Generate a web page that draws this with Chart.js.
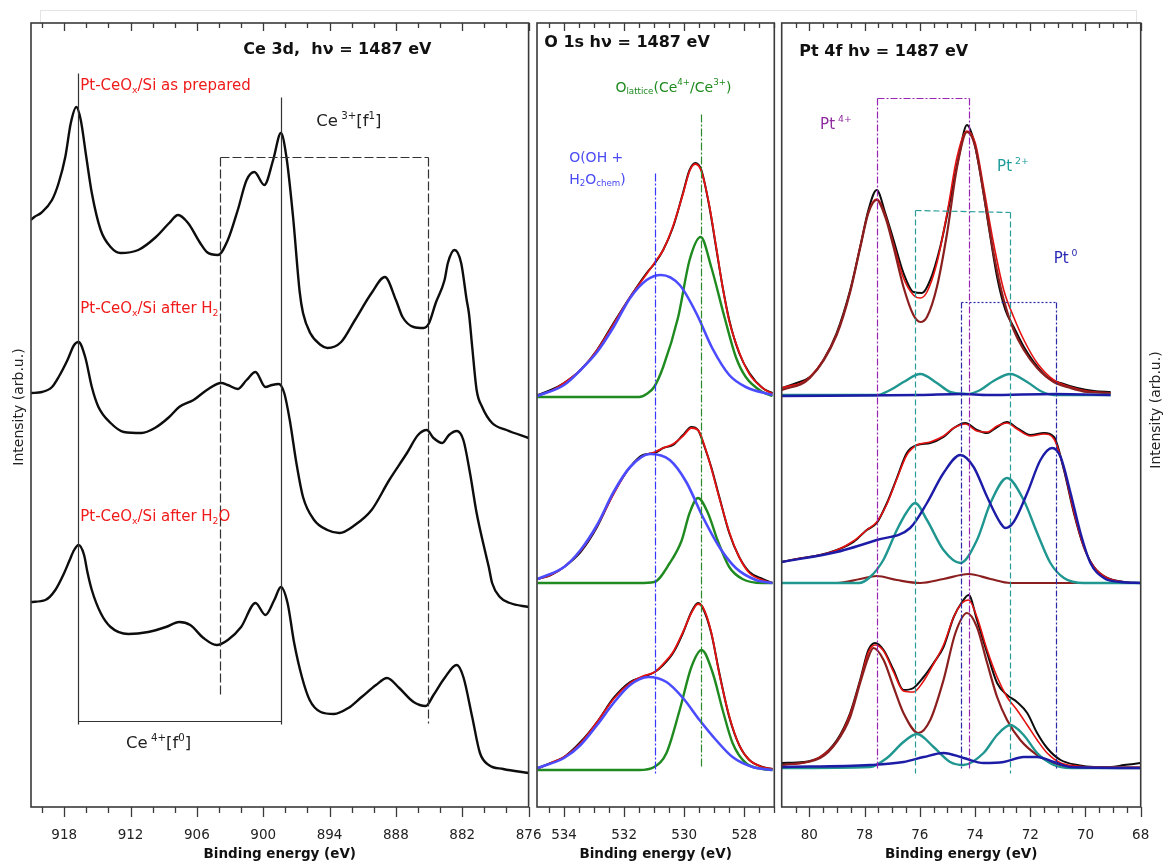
<!DOCTYPE html>
<html>
<head>
<meta charset="utf-8">
<title>Ce 3d / O 1s / Pt 4f XPS</title>
<script src="https://cdn.jsdelivr.net/npm/chart.js@4.4.0/dist/chart.umd.min.js"></script>
<style>
  body { margin: 0; background: #fff; }
  #page { position: relative; width: 1164px; height: 867px; overflow: hidden; background: #fff; }
  #sheet { position: absolute; left: 40px; top: 10px; width: 1095px; height: 13px; border: 1px solid #e4e4e4; border-bottom: none; }
  .panel { position: absolute; top: 0; height: 867px; }
</style>
</head>
<body>
<div id="page">
  <div id="sheet"></div>
  <div class="panel" style="left:0;width:560px"><canvas id="ce3d"></canvas></div>
  <div class="panel" style="left:500px;width:300px"><canvas id="o1s"></canvas></div>
  <div class="panel" style="left:760px;width:404px"><canvas id="pt4f"></canvas></div>
</div>
<script>
// ---- Ce 3d (binding energy in eV, intensity in arb. units, spectra stacked) ----
const ceTicks = [918, 912, 906, 900, 894, 888, 882, 876];
const ceE1 = [921.0, 920.7, 920.1, 919.1, 918.5, 917.9, 917.4, 916.9, 916.5, 916.0, 915.5, 914.7, 913.8, 912.9, 911.3, 909.7, 908.5, 907.7, 906.8, 905.7, 905.1, 904.1, 903.2, 902.3, 901.5, 900.8, 899.9, 899.1, 898.4, 897.9, 897.3, 896.7, 896.4, 895.75, 894.8, 894.2, 892.95, 891.7, 890.2, 889.0, 888.0, 887.4, 886.4, 885.5, 885.0, 884.4, 883.6, 883.3, 882.7, 882.1, 881.6, 881.4, 881.1, 880.7, 880.2, 879.3, 878.0, 876.0];
const ceAsPrepared = [587, 590, 594, 607, 624, 650, 684, 700, 687, 650, 614, 577, 560, 554, 557, 570, 584, 592, 584, 564, 555, 552, 567, 597, 627, 635, 622, 647, 674, 650, 590, 515, 494, 474, 462, 459, 465, 487, 514, 530, 507, 490, 480, 479, 484, 504, 527, 544, 557, 544, 507, 494, 460, 417, 400, 384, 377, 369];
const ceE2 = [921.0, 920.0, 919.1, 918.5, 917.7, 917.1, 916.7, 916.1, 915.5, 914.9, 913.8, 912.6, 911.0, 909.8, 908.5, 907.6, 906.3, 905.1, 903.8, 903.2, 902.3, 901.5, 900.7, 899.8, 899.2, 898.6, 898.1, 897.6, 897.0, 896.4, 895.4, 894.2, 893.1, 891.7, 890.2, 888.6, 887.0, 886.0, 885.2, 884.6, 883.8, 883.2, 882.5, 881.9, 881.3, 880.7, 879.9, 879.6, 879.3, 878.6, 877.7, 876.0];
const ceAfterH2 = [414, 415, 420, 430, 447, 462, 465, 450, 420, 400, 384, 375, 374, 379, 390, 400, 407, 417, 424, 422, 418, 427, 435, 420, 422, 423, 414, 387, 344, 310, 287, 277, 274, 282, 297, 327, 354, 372, 377, 369, 364, 372, 376, 367, 334, 294, 254, 240, 224, 210, 204, 200];
const ceE3 = [921.0, 919.7, 918.8, 918.0, 917.5, 917.1, 916.7, 916.2, 915.9, 915.5, 914.7, 913.8, 912.2, 910.4, 908.8, 907.6, 906.6, 905.4, 904.2, 903.2, 902.0, 900.7, 899.8, 899.0, 898.4, 897.8, 897.2, 896.5, 895.8, 894.8, 893.6, 892.3, 891.1, 889.8, 888.8, 887.7, 886.4, 885.3, 884.6, 883.6, 882.5, 881.9, 881.1, 880.4, 879.6, 878.3, 876.0];
const ceAfterH2O = [205, 207, 217, 234, 247, 257, 262, 252, 235, 217, 194, 180, 173, 175, 180, 185, 182, 169, 162, 167, 180, 204, 192, 207, 220, 204, 164, 130, 107, 95, 93, 99, 110, 122, 129, 119, 105, 101, 112, 129, 142, 130, 90, 54, 42, 38, 34];
const ceCe4Lines = [916.75, 898.35];
const ceCe3Lines = [903.95, 885.1];

// ---- O 1s ----
const oTicks = [534, 532, 530, 528];
const oE1 = [534.88, 534.44, 534.0, 533.45, 532.9, 532.35, 531.8, 531.25, 530.97, 530.7, 530.37, 530.04, 529.82, 529.63, 529.43, 529.16, 528.94, 528.72, 528.5, 528.17, 527.83, 527.39, 527.06];
const oData1 = [412, 417, 424, 437, 457, 484, 510, 534, 544, 557, 580, 614, 637, 644, 637, 600, 560, 520, 487, 454, 434, 419, 414];
const oFit1 = [411, 416, 424, 437, 457, 483, 510, 533, 545, 557, 581, 613, 636, 643, 636, 601, 561, 520, 486, 455, 433, 419, 413];
const oOhE1 = [534.88, 534.0, 533.45, 532.9, 532.35, 531.8, 531.25, 530.77, 530.15, 529.6, 529.05, 528.5, 527.95, 527.06];
const oOh1 = [411, 422, 437, 455, 480, 509, 527, 532, 522, 494, 458, 432, 420, 412];
const oLatE1 = [534.88, 531.5, 531.25, 531.0, 530.7, 530.2, 529.82, 529.45, 529.1, 528.66, 528.28, 527.95, 527.39, 527.06];
const oLat1 = [410, 410, 413, 420, 440, 490, 547, 570, 540, 490, 450, 430, 415, 411];

const oE2 = [534.88, 534.44, 534.0, 533.45, 532.9, 532.35, 531.8, 531.37, 530.98, 530.7, 530.37, 530.04, 529.76, 529.54, 529.32, 529.1, 528.83, 528.5, 528.17, 527.83, 527.39, 527.06];
const oData2 = [228, 232, 240, 255, 280, 314, 340, 352, 354, 359, 362, 372, 380, 377, 360, 340, 310, 274, 250, 235, 228, 224];
const oFit2 = [228, 232, 240, 256, 281, 313, 340, 351, 355, 359, 363, 371, 379, 377, 361, 339, 309, 275, 250, 234, 227, 224];
const oOhE2 = [534.88, 534.0, 533.45, 532.9, 532.35, 531.8, 531.14, 530.48, 529.93, 529.38, 528.83, 528.28, 527.61, 527.06];
const oOh2 = [228, 240, 257, 282, 315, 340, 353, 347, 325, 290, 260, 239, 227, 224];
const oLatE2 = [534.88, 531.5, 531.0, 530.48, 530.09, 529.82, 529.54, 529.21, 528.88, 528.5, 528.06, 527.39, 527.06];
const oLat2 = [224, 224, 225, 244, 266, 294, 309, 294, 266, 240, 228, 224, 224];

const oE3 = [534.88, 534.44, 534.0, 533.45, 532.9, 532.35, 531.8, 531.37, 530.98, 530.7, 530.37, 530.04, 529.76, 529.54, 529.38, 529.1, 528.83, 528.5, 528.17, 527.83, 527.39, 527.06];
const oData3 = [39, 44, 50, 65, 85, 109, 125, 130, 135, 142, 154, 174, 195, 204, 199, 174, 134, 90, 62, 47, 40, 38];
const oFit3 = [38, 44, 50, 64, 85, 108, 124, 131, 135, 143, 155, 175, 194, 203, 200, 175, 133, 91, 62, 47, 40, 38];
const oOhE3 = [534.88, 534.0, 533.45, 532.9, 532.35, 531.8, 531.19, 530.59, 530.04, 529.49, 528.94, 528.39, 527.72, 527.06];
const oOh3 = [39, 49, 62, 82, 104, 122, 130, 125, 109, 87, 67, 50, 40, 37];
const oLatE3 = [534.88, 531.5, 531.0, 530.59, 530.15, 529.76, 529.42, 529.05, 528.72, 528.39, 527.95, 527.39, 527.06];
const oLat3 = [37, 37, 40, 54, 97, 140, 157, 134, 97, 64, 44, 38, 37];
const oOhLine = 530.98;
const oLatticeLine = 529.45;

// ---- Pt 4f ----
const ptTicks = [80, 78, 76, 74, 72, 70, 68];
const ptE1 = [81.0, 80.46, 79.98, 79.49, 79.01, 78.52, 78.16, 77.86, 77.56, 77.25, 76.95, 76.59, 76.23, 75.92, 75.62, 75.26, 74.9, 74.59, 74.29, 74.05, 73.81, 73.5, 73.2, 72.9, 72.6, 72.23, 71.87, 71.39, 70.9, 70.3, 69.69, 69.09];
const ptData1 = [419, 424, 430, 447, 474, 517, 560, 597, 617, 594, 567, 534, 515, 514, 527, 560, 607, 650, 682, 667, 634, 580, 530, 497, 480, 460, 445, 430, 424, 419, 416, 415];
const ptFitE1 = [81.0, 79.98, 79.01, 78.52, 78.16, 77.86, 77.56, 77.25, 76.95, 76.59, 76.23, 75.98, 75.74, 75.38, 75.01, 74.65, 74.29, 73.99, 73.69, 73.33, 72.96, 72.6, 72.23, 71.75, 71.15, 70.54, 69.94, 69.09];
const ptFit1 = [419, 430, 473, 516, 560, 595, 608, 592, 563, 529, 512, 509, 515, 544, 594, 650, 676, 664, 620, 564, 517, 490, 467, 444, 427, 420, 416, 414];
const ptPt4a = [417, 429, 472, 515, 559, 594, 607, 590, 560, 520, 492, 485, 490, 520, 574, 640, 675, 660, 614, 554, 507, 477, 457, 439, 425, 419, 415, 414];
const ptPt2E1 = [81.0, 77.56, 77.07, 76.59, 75.98, 75.38, 74.9, 74.29, 73.81, 73.33, 72.72, 72.11, 71.63, 71.15, 69.09];
const ptPt2a = [412, 412, 417, 425, 433, 424, 415, 413, 417, 426, 433, 425, 416, 412, 412];
const ptPt0E1 = [81.0, 76.0, 74.5, 73.5, 71.1, 69.09];
const ptPt0a = [411, 412, 413, 412, 413, 412];

const ptE2 = [81.0, 80.46, 79.61, 79.0, 78.4, 77.92, 77.56, 77.19, 76.83, 76.47, 76.1, 75.62, 75.14, 74.77, 74.35, 73.93, 73.56, 73.2, 72.84, 72.48, 71.99, 71.5, 71.14, 70.78, 70.42, 70.06, 69.69, 69.21, 68.6, 68.0];
const ptData2 = [245, 248, 252, 257, 265, 277, 284, 304, 329, 354, 362, 364, 370, 379, 384, 377, 374, 380, 385, 379, 372, 374, 370, 337, 294, 260, 240, 229, 225, 224];
const ptFit2 = [245, 248, 252, 257, 266, 277, 285, 303, 328, 352, 362, 365, 371, 379, 383, 376, 375, 381, 384, 378, 371, 373, 368, 338, 295, 260, 240, 229, 225, 224];
const ptPt0E2 = [81.0, 79.01, 77.56, 76.35, 75.74, 75.14, 74.53, 74.05, 73.56, 73.08, 72.9, 72.6, 72.11, 71.63, 71.21, 70.9, 70.54, 70.18, 69.82, 69.33, 68.73, 68.0];
const ptPt0b = [245, 255, 267, 279, 304, 334, 352, 340, 310, 284, 279, 285, 314, 347, 359, 350, 314, 274, 244, 229, 225, 224];
const ptPt2E2 = [81.0, 78.2, 77.8, 77.32, 76.83, 76.47, 76.17, 75.74, 75.14, 74.53, 73.93, 73.44, 72.84, 72.24, 71.75, 71.27, 70.78, 70.06, 68.0];
const ptPt2b = [224, 224, 230, 247, 277, 295, 304, 287, 257, 244, 267, 304, 329, 307, 274, 244, 229, 224, 224];
const ptPt4E2 = [81.0, 79.0, 78.16, 77.56, 76.83, 75.98, 75.14, 74.23, 73.44, 72.72, 68.0];
const ptPt4b = [224, 224, 228, 231, 227, 224, 228, 233, 228, 224, 224];

const ptE3 = [81.0, 80.22, 79.61, 79.0, 78.52, 78.16, 77.86, 77.62, 77.31, 76.95, 76.59, 76.23, 75.86, 75.5, 75.14, 74.77, 74.47, 74.23, 73.93, 73.56, 73.2, 72.84, 72.48, 72.11, 71.75, 71.39, 70.9, 70.3, 69.69, 69.09, 68.6, 68.0];
const ptData3 = [44, 45, 50, 67, 94, 127, 157, 164, 157, 137, 117, 119, 130, 144, 160, 190, 205, 212, 187, 154, 124, 112, 105, 94, 74, 59, 47, 42, 40, 40, 42, 44];
const ptFit3 = [42, 44, 50, 66, 93, 126, 155, 162, 156, 135, 116, 115, 126, 143, 162, 190, 204, 207, 190, 157, 130, 110, 97, 82, 67, 54, 44, 41, 40, 40, 40, 40];
const ptPt4E3 = [81.0, 79.61, 79.01, 78.52, 78.16, 77.86, 77.68, 77.31, 76.95, 76.59, 76.05, 75.62, 75.14, 74.71, 74.29, 73.93, 73.56, 73.2, 72.84, 72.36, 71.75, 71.15, 70.54, 68.0];
const ptPt4c = [42, 49, 65, 90, 124, 150, 159, 147, 120, 94, 74, 87, 127, 174, 194, 180, 144, 110, 87, 67, 52, 44, 40, 39];
const ptPt2E3 = [81.0, 77.8, 77.19, 76.59, 76.1, 75.5, 74.9, 74.41, 73.69, 73.2, 72.72, 72.24, 71.75, 71.15, 70.54, 68.0];
const ptPt2c = [39, 40, 49, 65, 73, 60, 45, 42, 54, 72, 82, 72, 54, 42, 39, 39];
const ptPt0E3 = [81.0, 77.8, 76.59, 75.86, 75.14, 74.41, 73.69, 72.96, 72.24, 71.75, 71.15, 70.54, 68.0];
const ptPt0c = [40, 42, 45, 50, 54, 49, 44, 45, 50, 50, 45, 40, 39];
const ptPt4Lines = [77.56, 74.23];
const ptPt2Lines = [76.17, 72.72];
const ptPt0Lines = [74.51, 71.08];

const FONT = '"DejaVu Sans", Verdana, sans-serif';
const BLACK = '#0d0d0d', FIT = '#e61212';

function curve(xs, ys, color, width) {
  return {
    data: xs.map((x, i) => ({x, y: ys[i]})),
    borderColor: color,
    borderWidth: width,
    pointRadius: 0,
    fill: false,
    cubicInterpolationMode: 'monotone'
  };
}

// text with _sub and ^sup pieces, left aligned, vertically centred
function drawRich(ctx, x, y, parts, size, color, weight) {
  ctx.save();
  ctx.fillStyle = color;
  ctx.textAlign = 'left';
  ctx.textBaseline = 'middle';
  for (const p of parts) {
    let t = p, s = size, dy = 0;
    if (p[0] === '_') { t = p.slice(1); s = size * 0.62; dy = size * 0.3; }
    else if (p[0] === '^') { t = p.slice(1); s = size * 0.62; dy = -size * 0.36; }
    ctx.font = `${weight || 'normal'} ${s}px ${FONT}`;
    ctx.fillText(t, x, y + dy);
    x += ctx.measureText(t).width;
  }
  ctx.restore();
}

// frame, inward top ticks, outward bottom ticks, guide lines and labels
function decor(spec) {
  return {
    id: 'decor',
    afterDatasetsDraw(chart) {
      const {ctx, scales: {x, y}} = chart;
      for (const g of spec.guides) {
        ctx.save();
        ctx.strokeStyle = g.color;
        ctx.lineWidth = g.width;
        ctx.setLineDash(g.dash);
        for (const [x1, y1, x2, y2] of g.segs) {
          ctx.beginPath();
          ctx.moveTo(Math.round(x.getPixelForValue(x1)) + 0.5, Math.round(y.getPixelForValue(y1)) + 0.5);
          ctx.lineTo(Math.round(x.getPixelForValue(x2)) + 0.5, Math.round(y.getPixelForValue(y2)) + 0.5);
          ctx.stroke();
        }
        ctx.restore();
      }
    },
    afterDraw(chart) {
      const {ctx, chartArea: a, scales: {x, y}} = chart;
      ctx.save();
      ctx.strokeStyle = '#3a3a3a';
      ctx.lineWidth = 1.6;
      ctx.strokeRect(a.left, a.top, a.right - a.left, a.bottom - a.top);
      ctx.lineWidth = 1.3;
      ctx.beginPath();
      for (let v = spec.tickFrom; v >= spec.tickTo - 1e-6; v -= spec.tickStep) {
        const px = Math.round(x.getPixelForValue(v)) + 0.5;
        const major = spec.ticks.some(t => Math.abs(t - v) < 1e-6);
        ctx.moveTo(px, a.bottom);
        ctx.lineTo(px, a.bottom + (major ? 10 : 6));
        ctx.moveTo(px, a.top);
        ctx.lineTo(px, a.top + (major ? 8 : 5));
      }
      ctx.stroke();
      ctx.restore();

      for (const n of spec.notes) {
        drawRich(ctx, x.getPixelForValue(n.at[0]), y.getPixelForValue(n.at[1]), n.parts, n.size, n.color, n.weight);
      }

      if (spec.side) {
        const s = spec.side;
        ctx.save();
        ctx.translate(s.edge === 'left' ? a.left + s.dx : a.right + s.dx, (a.top + a.bottom) / 2 + s.dy);
        ctx.rotate(-Math.PI / 2);
        ctx.fillStyle = '#222';
        ctx.font = `14px ${FONT}`;
        ctx.textAlign = 'center';
        ctx.textBaseline = 'middle';
        ctx.fillText('Intensity (arb.u.)', 0, 0);
        ctx.restore();
      }
    }
  };
}

function makeChart(id, spec) {
  return new Chart(document.getElementById(id), {
    type: 'line',
    data: {datasets: spec.datasets},
    options: {
      responsive: true,
      maintainAspectRatio: false,
      animation: false,
      events: [],
      layout: {padding: spec.padding},
      plugins: {legend: {display: false}, tooltip: {enabled: false}},
      scales: {
        x: {
          type: 'linear',
          reverse: true,
          min: spec.min,
          max: spec.max,
          afterBuildTicks: axis => { axis.ticks = spec.ticks.map(value => ({value})); },
          afterFit: axis => { axis.height = 60; },
          // tick marks are drawn by the decor plugin; tickLength only spaces the labels
          grid: {display: false, drawTicks: true, tickLength: 20},
          border: {display: false},
          ticks: {padding: 0, autoSkip: false, maxRotation: 0, color: '#222', font: {family: FONT, size: 13.5}},
          title: {
            display: true,
            text: 'Binding energy (eV)',
            color: '#111',
            font: {family: FONT, size: 13.5, weight: 'bold'},
            padding: {top: 0, bottom: 4}
          }
        },
        y: {display: false, min: 0, max: 784}
      }
    },
    plugins: [decor(spec)]
  });
}

const RED_LABEL = '#f01a1a';

makeChart('ce3d', {
  min: 876, max: 921, ticks: ceTicks, tickFrom: 920, tickTo: 876, tickStep: 2,
  padding: {left: 31, right: 31.4, top: 23, bottom: 0},
  datasets: [
    curve(ceE1, ceAsPrepared, BLACK, 2.4),
    curve(ceE2, ceAfterH2, BLACK, 2.4),
    curve(ceE3, ceAfterH2O, BLACK, 2.4)
  ],
  guides: [
    {color: '#333', width: 1.2, dash: [], segs: [
      [ceCe4Lines[0], 734, ceCe4Lines[0], 83], [ceCe4Lines[1], 710, ceCe4Lines[1], 83],
      [ceCe4Lines[0], 86, ceCe4Lines[1], 86]]},
    {color: '#333', width: 1.2, dash: [9, 3], segs: [
      [ceCe3Lines[0], 650, ceCe3Lines[0], 112], [ceCe3Lines[1], 650, ceCe3Lines[1], 84],
      [ceCe3Lines[0], 650, ceCe3Lines[1], 650]]}
  ],
  notes: [
    {at: [901.8, 757], parts: ['Ce 3d,  h\u03bd = 1487 eV'], size: 16, color: '#111', weight: 'bold'},
    {at: [916.55, 721], parts: ['Pt-CeO', '_x', '/Si as prepared'], size: 15, color: RED_LABEL},
    {at: [895.2, 685], parts: ['Ce', '^ 3+', '[f', '^1', ']'], size: 16.5, color: '#222'},
    {at: [916.55, 498], parts: ['Pt-CeO', '_x', '/Si after H', '_2'], size: 15, color: RED_LABEL},
    {at: [916.55, 290], parts: ['Pt-CeO', '_x', '/Si after H', '_2', 'O'], size: 15, color: RED_LABEL},
    {at: [912.4, 63], parts: ['Ce', '^ 4+', '[f', '^0', ']'], size: 16.5, color: '#222'}
  ],
  side: {edge: 'left', dx: -12, dy: -8}
});

const OH_BLUE = '#4b4bff', LAT_GREEN = '#1f8a1f';
makeChart('o1s', {
  min: 527, max: 534.9, ticks: oTicks, tickFrom: 534.5, tickTo: 527, tickStep: 0.5,
  padding: {left: 37, right: 25.7, top: 23, bottom: 0},
  datasets: [
    curve(oOhE1, oOh1, OH_BLUE, 2.6), curve(oLatE1, oLat1, LAT_GREEN, 2.4),
    curve(oE1, oFit1, FIT, 1.8), curve(oE1, oData1, BLACK, 2),
    curve(oOhE2, oOh2, OH_BLUE, 2.6), curve(oLatE2, oLat2, LAT_GREEN, 2.4),
    curve(oE2, oFit2, FIT, 1.8), curve(oE2, oData2, BLACK, 2),
    curve(oOhE3, oOh3, OH_BLUE, 2.6), curve(oLatE3, oLat3, LAT_GREEN, 2.4),
    curve(oE3, oFit3, FIT, 1.8), curve(oE3, oData3, BLACK, 2)
  ],
  guides: [
    {color: '#3737ff', width: 1.2, dash: [8, 2, 2, 2], segs: [[oOhLine, 634, oOhLine, 34]]},
    {color: '#2b8a2b', width: 1.2, dash: [8, 2, 2, 2], segs: [[oLatticeLine, 693, oLatticeLine, 40]]}
  ],
  notes: [
    {at: [534.66, 764], parts: ['O 1s h\u03bd = 1487 eV'], size: 16, color: '#111', weight: 'bold'},
    {at: [532.29, 719], parts: ['O', '_lattice', '(Ce', '^4+', '/Ce', '^3+', ')'], size: 14, color: '#1f8a1f'},
    {at: [533.83, 649], parts: ['O(OH +'], size: 14, color: '#4a4af5'},
    {at: [533.83, 627], parts: ['H', '_2', 'O', '_chem', ')'], size: 14, color: '#4a4af5'}
  ]
});

const PT4 = '#8b1f1f', PT2 = '#1f9690', PT0 = '#1c1ca6';
makeChart('pt4f', {
  min: 68, max: 81, ticks: ptTicks, tickFrom: 80.5, tickTo: 68, tickStep: 0.5,
  padding: {left: 21.7, right: 23.3, top: 23, bottom: 0},
  datasets: [
    curve(ptPt0E1, ptPt0a, PT0, 2.4), curve(ptPt2E1, ptPt2a, PT2, 2.4),
    curve(ptFitE1, ptPt4a, PT4, 2.2), curve(ptFitE1, ptFit1, FIT, 1.6), curve(ptE1, ptData1, BLACK, 2),
    curve(ptPt0E2, ptPt0b, PT0, 2.4), curve(ptPt2E2, ptPt2b, PT2, 2.4),
    curve(ptPt4E2, ptPt4b, PT4, 2.2), curve(ptE2, ptFit2, FIT, 1.6), curve(ptE2, ptData2, BLACK, 2),
    curve(ptPt0E3, ptPt0c, PT0, 2.4), curve(ptPt2E3, ptPt2c, PT2, 2.4),
    curve(ptPt4E3, ptPt4c, PT4, 2.2), curve(ptE3, ptFit3, FIT, 1.6), curve(ptE3, ptData3, BLACK, 2)
  ],
  guides: [
    {color: '#9a25b5', width: 1.2, dash: [7, 2, 2, 2], segs: [
      [ptPt4Lines[0], 709, ptPt4Lines[0], 37], [ptPt4Lines[1], 709, ptPt4Lines[1], 37],
      [ptPt4Lines[0], 709, ptPt4Lines[1], 709]]},
    {color: '#2a9d9a', width: 1.2, dash: [6, 3], segs: [
      [ptPt2Lines[0], 597, ptPt2Lines[0], 34], [ptPt2Lines[1], 595, ptPt2Lines[1], 34],
      [ptPt2Lines[0], 597, ptPt2Lines[1], 595]]},
    {color: '#2a2aa8', width: 1.2, dash: [6, 2, 2, 2], segs: [
      [ptPt0Lines[0], 505, ptPt0Lines[0], 37], [ptPt0Lines[1], 505, ptPt0Lines[1], 37]]},
    {color: '#2a2aa8', width: 1.2, dash: [2, 2], segs: [[ptPt0Lines[0], 505, ptPt0Lines[1], 505]]}
  ],
  notes: [
    {at: [80.36, 755], parts: ['Pt 4f h\u03bd = 1487 eV'], size: 16, color: '#111', weight: 'bold'},
    {at: [79.61, 682], parts: ['Pt', '^ 4+'], size: 15, color: '#8e2a9e'},
    {at: [73.2, 640], parts: ['Pt', '^ 2+'], size: 15, color: '#1f9c9c'},
    {at: [71.15, 548], parts: ['Pt', '^ 0'], size: 15, color: '#2727b5'}
  ],
  side: {edge: 'right', dx: 16, dy: -5}
});
</script>
</body>
</html>
